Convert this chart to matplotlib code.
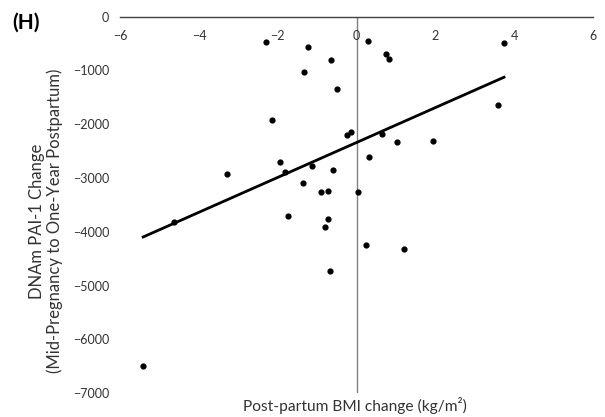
import numpy as np
import matplotlib
matplotlib.use('Agg')
import matplotlib.pyplot as plt

# post-partum BMI change (kg/m2) vs DNAm PAI-1 change
bmi_change = [-2.31, -1.24, -0.66, -1.34, -0.51, 0.28, 0.74, 0.82, 3.74, 3.60,
              -2.15, -0.24, -0.14, 0.64, 1.02, 1.95, 0.32, -1.95, -1.81, -1.13,
              -3.30, -0.60, -1.37, -0.90, -0.72, 0.04, -4.64, -1.75, -0.74, -0.80,
              0.24, 1.19, -0.68, -5.42]
pai1_change = [-479, -561, -813, -1036, -1352, -464, -691, -789, -486, -1643,
               -1927, -2209, -2150, -2182, -2325, -2317, -2603, -2696, -2887, -2770,
               -2930, -2859, -3097, -3253, -3242, -3264, -3810, -3704, -3769, -3908,
               -4242, -4326, -4735, -6502]
trend_slope = 324
trend_intercept = -2340

x_ticks = [-6, -4, -2, 0, 2, 4, 6]
y_ticks = [0, -1000, -2000, -3000, -4000, -5000, -6000, -7000]

plt.rcParams['font.family'] = ['Lato', 'DejaVu Sans']

fig = plt.figure(figsize=(6.05, 4.17), dpi=100)
ax = fig.add_axes([120.3 / 605, 1 - 393.3 / 417, (593 - 120.3) / 605, (393.3 - 16.5) / 417])

ax.scatter(bmi_change, pai1_change, s=12, color='black', zorder=3)

tx = np.array([min(bmi_change), max(bmi_change)])
ax.plot(tx, trend_slope * tx + trend_intercept, color='black', lw=2.0, zorder=2)

ax.set_xlim(-6, 6)
ax.set_ylim(-7000, 0)
ax.set_xticks(x_ticks)
ax.set_yticks(y_ticks)
ax.set_xticklabels(['\u2212' + str(-v) if v < 0 else str(v) for v in x_ticks])
ax.set_yticklabels(['\u2212' + str(-v) if v < 0 else str(v) for v in y_ticks])

for s in ['top', 'right', 'left']:
    ax.spines[s].set_visible(False)
ax.spines['bottom'].set_position(('data', 0))
ax.spines['bottom'].set_color('#404040')
ax.spines['bottom'].set_linewidth(1.0)
ax.axvline(0, color='#808080', lw=1.0, zorder=1)

ax.tick_params(axis='x', length=0, pad=9.5, labelsize=9, colors='#333333')
ax.tick_params(axis='y', length=0, pad=8, labelsize=9, colors='#333333')

fig.text(46 / 605, 1 - 221 / 417, 'DNAm PAI-1 Change\n(Mid-Pregnancy to One-Year Postpartum)',
         fontsize=12, color='#333333', rotation=90, ha='center', va='center',
         multialignment='center', linespacing=1.05)
fig.text(355 / 605, 1 - 405 / 417, 'Post-partum BMI change (kg/m\u00b2)', fontsize=11.2,
         color='#333333', ha='center', va='center')
fig.text(12 / 605, 1 - 23 / 417, '(H)', fontsize=15, fontweight='bold', ha='left', va='center')

fig.savefig('out.png', dpi=100, facecolor='white')
